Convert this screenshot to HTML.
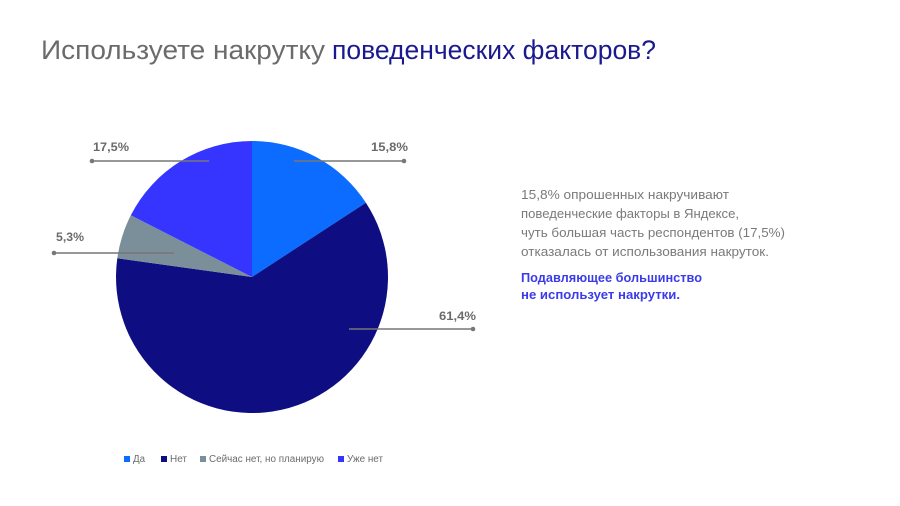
<!DOCTYPE html>
<html><head><meta charset="utf-8"><style>
html,body{margin:0;padding:0;background:#fff;}
svg{display:block;}
text{font-family:"Liberation Sans","Noto Sans CJK SC",sans-serif;}
</style></head><body>
<svg width="900" height="506" viewBox="0 0 900 506" xmlns="http://www.w3.org/2000/svg">
<rect width="900" height="506" fill="#fff"/>
<text x="41" y="59" font-size="26.5" fill="#6b6b6b" textLength="284" lengthAdjust="spacingAndGlyphs">Используете накрутку</text>
<text x="332" y="59" font-size="26.5" fill="#1a1a8e" textLength="324" lengthAdjust="spacingAndGlyphs">поведенческих факторов?</text>

<path d="M252,277 L252,141 A136,136 0 0 1 365.9,202.7 Z" fill="#0b6cff"/>
<path d="M252,277 L365.9,202.7 A136,136 0 1 1 117.3,258.3 Z" fill="#0e0e82"/>
<path d="M252,277 L117.3,258.3 A136,136 0 0 1 130.8,215.3 Z" fill="#7a8f99"/>
<path d="M252,277 L130.8,215.3 A136,136 0 0 1 252,141 Z" fill="#3535ff"/>

<g stroke="#777" stroke-width="1.5" fill="none">
<line x1="294" y1="161" x2="404" y2="161"/>
<line x1="92" y1="161" x2="209" y2="161"/>
<line x1="54" y1="253" x2="174" y2="253"/>
<line x1="349" y1="329" x2="473" y2="329"/>
</g>
<g fill="#777">
<circle cx="404" cy="161" r="2.3"/>
<circle cx="92" cy="161" r="2.3"/>
<circle cx="54" cy="253" r="2.3"/>
<circle cx="473" cy="329" r="2.3"/>
</g>
<g font-size="11.5" fill="#6b6b6b" font-weight="bold">
<text x="371" y="151" textLength="37" lengthAdjust="spacingAndGlyphs">15,8%</text>
<text x="93" y="151" textLength="36" lengthAdjust="spacingAndGlyphs">17,5%</text>
<text x="56" y="241" textLength="28" lengthAdjust="spacingAndGlyphs">5,3%</text>
<text x="439" y="320" textLength="37" lengthAdjust="spacingAndGlyphs">61,4%</text>
</g>

<g font-size="13" fill="#7a7a7a">
<text x="521" y="199" textLength="208" lengthAdjust="spacingAndGlyphs">15,8% опрошенных накручивают</text>
<text x="521" y="218" textLength="218" lengthAdjust="spacingAndGlyphs">поведенческие факторы в Яндексе,</text>
<text x="521" y="237" textLength="264" lengthAdjust="spacingAndGlyphs">чуть большая часть респондентов (17,5%)</text>
<text x="521" y="256" textLength="248" lengthAdjust="spacingAndGlyphs">отказалась от использования накруток.</text>
</g>
<g font-size="13" fill="#3b3bea" font-weight="bold">
<text x="521" y="282" textLength="181" lengthAdjust="spacingAndGlyphs">Подавляющее большинство</text>
<text x="521" y="299" textLength="159" lengthAdjust="spacingAndGlyphs">не использует накрутки.</text>
</g>

<rect x="124" y="456" width="6" height="6" fill="#0b6cff"/>
<rect x="161" y="456" width="6" height="6" fill="#0e0e82"/>
<rect x="200" y="456" width="6" height="6" fill="#7a8f99"/>
<rect x="338" y="456" width="6" height="6" fill="#3535ff"/>
<g font-size="10" fill="#6b6b6b">
<text x="133" y="462" textLength="12" lengthAdjust="spacingAndGlyphs">Да</text>
<text x="170" y="462" textLength="17" lengthAdjust="spacingAndGlyphs">Нет</text>
<text x="209" y="462" textLength="115" lengthAdjust="spacingAndGlyphs">Сейчас нет, но планирую</text>
<text x="347" y="462" textLength="36" lengthAdjust="spacingAndGlyphs">Уже нет</text>
</g>
</svg>
</body></html>
